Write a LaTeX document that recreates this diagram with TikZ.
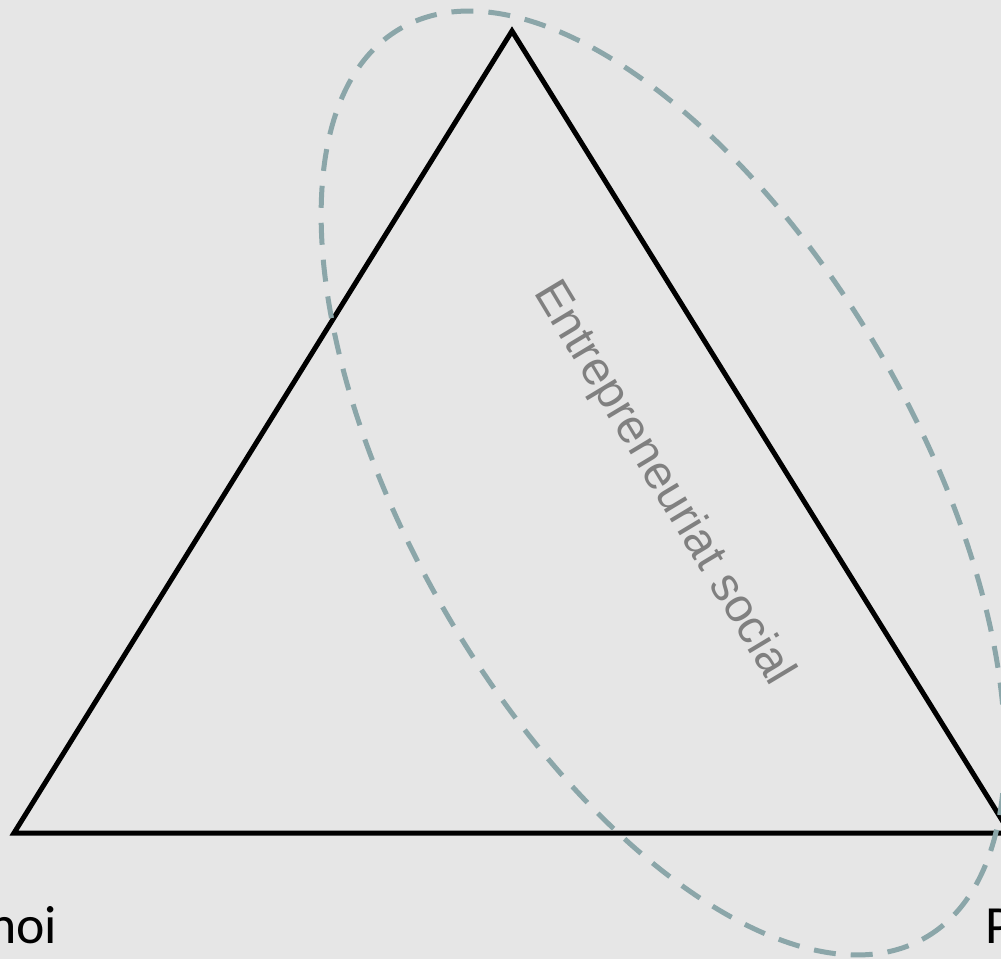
\documentclass[tikz,border=0pt]{standalone}
\usepackage{fontspec}
\setmainfont{Carlito}
\newfontfamily\notefont{Liberation Sans}
\definecolor{paper}{HTML}{E6E6E6}
\definecolor{ringcol}{HTML}{8BA6A9}
\definecolor{notecol}{HTML}{808080}

\begin{document}
\begin{tikzpicture}[
    x=0.02cm,
    y=-0.02cm,
    edge/.style={draw=black, line width=0.1cm, line join=miter},
    ring/.style={draw=ringcol, line width=0.1cm, dash pattern=on 0.44cm off 0.3cm},
    corner/.style={font=\fontsize{30.6}{36}\selectfont, inner sep=0pt},
    note/.style={font=\notefont\fontsize{27}{32}\selectfont, text=notecol, inner sep=0pt}
  ]
    \useasboundingbox (0,0) rectangle (1001,959);
    \fill[paper] (0,0) rectangle (1001,959);

    % triangle
    \coordinate (top) at (512,31);
    \coordinate (left) at (14,833);
    \coordinate (right) at (1010,833);
    \draw[edge] (top) -- (left) -- (right) -- cycle;

    % dashed ring
    \coordinate (ringc) at (663,483);
    \draw[ring, rotate around={-60:(ringc)}] (ringc) ellipse [x radius=10.5cm, y radius=5.06cm];
    \node[note, rotate=-59] (social) at (663,484) {Entrepreneuriat social};

    % corner labels
    \node[corner, anchor=base west] (moi) at (-12,943) {hoi};
    \node[corner, anchor=base west] (pole) at (985,943) {P};
  \end{tikzpicture}
\end{document}
